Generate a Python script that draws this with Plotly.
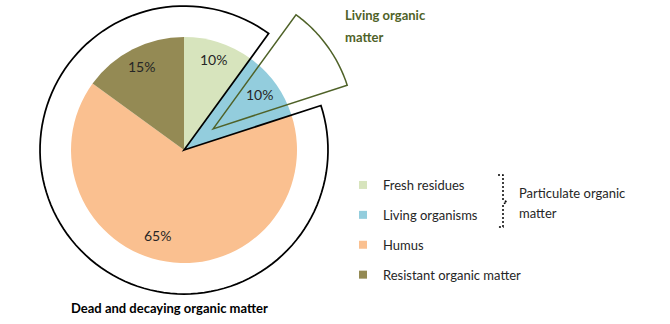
import math
import plotly.graph_objects as go

# ---- data ----
categories = ["Fresh residues", "Living organisms", "Humus", "Resistant organic matter"]
percent_values = [10, 10, 65, 15]
slice_colors = ["#D7E4BD", "#93CDDD", "#FAC090", "#948A54"]
living_group = ["Living organisms"]            # exploded "Living organic matter" wedge
particulate_group = ["Fresh residues", "Living organisms"]
outer_label = "Dead and decaying organic matter"
living_label_lines = ["Living organic", "matter"]
particulate_label_lines = ["Particulate organic", "matter"]

# ---- layout constants (pixels) ----
W, H = 670, 324
CX, CY, R = 184, 150, 113          # pie centre / radius
R_OUT = 144                        # dead & decaying outline radius
R_LIV, PULL = 141, 36              # living wedge radius & offset
FONT = "Lato"

total = sum(percent_values)
starts, ends = [], []
acc = 0
for v in percent_values:
    starts.append(360 * acc / total)
    acc += v
    ends.append(360 * acc / total)


def pt(theta, r, cx=CX, cy=CY):
    t = math.radians(theta)
    return cx + r * math.sin(t), cy - r * math.cos(t)


def arc(a0, a1, r, cx=CX, cy=CY, n=120):
    return [pt(a0 + (a1 - a0) * i / n, r, cx, cy) for i in range(n + 1)]


def path_of(points, close=True):
    s = "M " + " L ".join(f"{x:.2f},{y:.2f}" for x, y in points)
    return s + (" Z" if close else "")


fig = go.Figure()

fig.add_trace(go.Pie(
    labels=categories, values=percent_values, sort=False, direction="clockwise",
    rotation=0, marker=dict(colors=slice_colors, line=dict(width=0)),
    textinfo="none", hoverinfo="label+percent", showlegend=False,
    domain=dict(x=[(CX - R) / W, (CX + R) / W], y=[(H - CY - R) / H, (H - CY + R) / H]),
))

# legend entries
for i, (c, col) in enumerate(zip(categories, slice_colors)):
    fig.add_trace(go.Scatter(
        x=[None], y=[None], mode="markers", name=c, legendgroup=f"g{i}",
        marker=dict(symbol="square", size=8, color=col),
    ))

shapes = []
# dead & decaying outline: everything except the living organisms slice
li = categories.index(living_group[0])
a_l0, a_l1 = starts[li], ends[li]
dead_pts = [(CX, CY)] + arc(a_l1, a_l0 + 360, R_OUT)
shapes.append(dict(type="path", xref="x", yref="y", path=path_of(dead_pts),
                   line=dict(color="black", width=1.75), fillcolor="rgba(0,0,0,0)", layer="above"))
# exploded living wedge
mid = (a_l0 + a_l1) / 2
ax, ay = pt(mid, PULL)
liv_pts = [(ax, ay)] + arc(a_l0, a_l1, R_LIV, ax, ay, 40)
shapes.append(dict(type="path", xref="x", yref="y", path=path_of(liv_pts),
                   line=dict(color="#4F6228", width=1.5), fillcolor="rgba(0,0,0,0)", layer="above"))
# bracket for particulate organic matter
br = [(498, 175), (503, 175), (503, 200), (507, 202), (503, 204), (503, 227), (498, 227)]
shapes.append(dict(type="path", xref="x", yref="y", path=path_of(br, close=False),
                   line=dict(color="black", width=1.5, dash="2px,2px"), layer="above"))

annotations = []
# percent labels
label_rf = [0.84, 0.83, 0.79, 0.83]
label_da = [0, 0, 8, 0]
for i, v in enumerate(percent_values):
    m = (starts[i] + ends[i]) / 2 + label_da[i]
    x, y = pt(m, R * label_rf[i])
    annotations.append(dict(x=x, y=y, xref="x", yref="y", text=f"{v}%", showarrow=False,
                            font=dict(family=FONT, size=14, color="#262626")))
annotations.append(dict(x=169, y=308, xref="x", yref="y", text=outer_label, showarrow=False,
                        font=dict(family=FONT, size=13, color="black", weight="bold")))
for j, t in enumerate(living_label_lines):
    annotations.append(dict(x=343, y=15 + 22 * j, xref="x", yref="y", text=t, showarrow=False,
                            xanchor="left", font=dict(family=FONT, size=13, color="#4F6228", weight="bold")))
for j, t in enumerate(particulate_label_lines):
    annotations.append(dict(x=517, y=193 + 20 * j, xref="x", yref="y", text=t, showarrow=False,
                            xanchor="left", font=dict(family=FONT, size=13, color="#262626")))

fig.update_layout(
    width=W, height=H, margin=dict(l=0, r=0, t=0, b=0),
    paper_bgcolor="white", plot_bgcolor="white",
    xaxis=dict(range=[0, W], visible=False, fixedrange=True),
    yaxis=dict(range=[H, 0], visible=False, fixedrange=True),
    shapes=shapes, annotations=annotations,
    showlegend=True,
    legend=dict(x=343 / W, y=1 - 170 / H, xanchor="left", yanchor="top",
                traceorder="grouped", tracegroupgap=10,
                font=dict(family=FONT, size=13, color="#262626"),
                bgcolor="rgba(0,0,0,0)"),
)

fig.write_html("out.html")
